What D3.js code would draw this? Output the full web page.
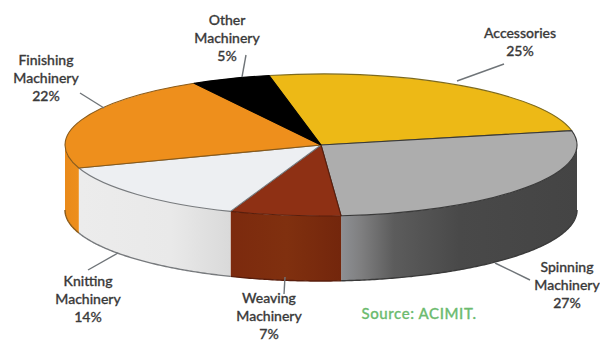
<!DOCTYPE html>
<html>
<head>
<meta charset="utf-8">
<script src="https://cdn.jsdelivr.net/npm/d3@7/dist/d3.min.js"></script>
<style>
html,body{margin:0;padding:0;background:#fff;}
svg{display:block;}
text{font-family:Lato,"Open Sans",sans-serif;font-size:14px;fill:#3a3a3a;text-anchor:middle;font-weight:500;stroke:#3a3a3a;stroke-width:.3px;}
</style>
</head>
<body>
<svg id="chart" width="600" height="341"></svg>
<script>
const categories = ["Accessories","Spinning Machinery","Weaving Machinery","Knitting Machinery","Finishing Machinery","Other Machinery"];
const values = [25,27,7,14,22,5];
const labelLines = [["Accessories","25%"],["Spinning","Machinery","27%"],["Weaving","Machinery","7%"],["Knitting","Machinery","14%"],["Finishing","Machinery","22%"],["Other","Machinery","5%"]];
const topColors = ["#EDB916","#ADADAD","#8E3014","#EDEFF2","#EE8F1C","#000000"];
const rimColors = ["#7d6a1e","#3a3a3a","#5a1e0c","#777a7d","#8a5a18","#000000"];
const sourceText = "Source: ACIMIT.";

const cx=321, cy=145, rx=256, ry=71, depth=65;
const startAngle = -11.7*Math.PI/180;
const svg = d3.select("#chart");
const sx = d3.scaleLinear().domain([-1,1]).range([cx-rx,cx+rx]);
const sy = d3.scaleLinear().domain([-1,1]).range([cy-ry,cy+ry]);
const px = a=>sx(Math.sin(a)), py = a=>sy(-Math.cos(a));

const pie = d3.pie().sort(null).startAngle(startAngle).endAngle(startAngle+2*Math.PI);
const arcs = pie(values);

// side-wall gradients (horizontal, in page space)
const defs = svg.append("defs");
const wallGrads = [
  null,
  {x1:342,x2:577,stops:[[0,"#8d8f93"],[.08,"#7f7f80"],[.22,"#5c5c5c"],[.5,"#494949"],[1,"#444444"]]},
  {x1:232,x2:342,stops:[[0,"#7c2a0e"],[.5,"#80300f"],[1,"#73260c"]]},
  {x1:80,x2:232,stops:[[0,"#ececec"],[.6,"#e9e9e9"],[1,"#d9d9d9"]]},
  {x1:65,x2:80,stops:[[0,"#e98a1a"],[1,"#ee8f1c"]]},
  null
];
wallGrads.forEach((g,i)=>{
  if(!g) return;
  const lg = defs.append("linearGradient").attr("id","wall"+i).attr("gradientUnits","userSpaceOnUse")
    .attr("x1",g.x1).attr("x2",g.x2).attr("y1",0).attr("y2",0);
  g.stops.forEach(s=>lg.append("stop").attr("offset",s[0]).attr("stop-color",s[1]));
});

// walls
const wall = d3.area().x(px).y0(py).y1(a=>py(a)+depth);
const edge = d3.line().x(px).y(a=>py(a)+depth);
const lo = Math.PI/2, hi = 3*Math.PI/2;
arcs.forEach((d,i)=>{
  const a0 = Math.max(d.startAngle,lo), a1 = Math.min(d.endAngle,hi);
  if(a1<=a0) return;
  const as = d3.range(a0,a1,0.01).concat([a1]);
  svg.append("path").attr("d",wall(as)).attr("fill",`url(#wall${i})`);
  svg.append("path").attr("d",edge(as)).attr("fill","none").attr("stroke",rimColors[i]).attr("stroke-width",1.4);
});

// top face
const arc = d3.arc().innerRadius(0).outerRadius(rx);
const topFace = svg.append("g").attr("transform",`translate(${cx},${cy}) scale(1,${ry/rx})`);
topFace.selectAll("path").data(arcs).join("path")
  .attr("d",arc).attr("fill",(d,i)=>topColors[i])
  .attr("stroke",(d,i)=>rimColors[i]).attr("stroke-width",1.1)
  .attr("vector-effect","non-scaling-stroke").attr("stroke-linejoin","round");

// leader lines + labels, placed relative to the pie
const lineStyle = "#6f7478";
const leaderPts = [[457,81,504,64],[495,263,530,280],[284,294,285,277],[118,253,88,270],[104,108,80,93],[242,77,246,55]];
const labelPos = [[520,38],[567,272],[269,303],[88,286],[46,65],[227,25]];
leaderPts.forEach(p=>svg.append("line").attr("x1",p[0]).attr("y1",p[1]).attr("x2",p[2]).attr("y2",p[3])
  .attr("stroke",lineStyle).attr("stroke-width",1.4));
labelLines.forEach((lines,i)=>{
  const t = svg.append("text").attr("x",labelPos[i][0]).attr("y",labelPos[i][1]);
  lines.forEach((l,j)=>t.append("tspan").attr("x",labelPos[i][0]).attr("dy",j?18:0).text(l));
});
svg.append("text").attr("x",419).attr("y",319).style("fill","#6cbb6f").style("stroke","#6cbb6f")
  .style("font-size","15px").style("letter-spacing","0.6px").text(sourceText);
</script>
</body>
</html>
